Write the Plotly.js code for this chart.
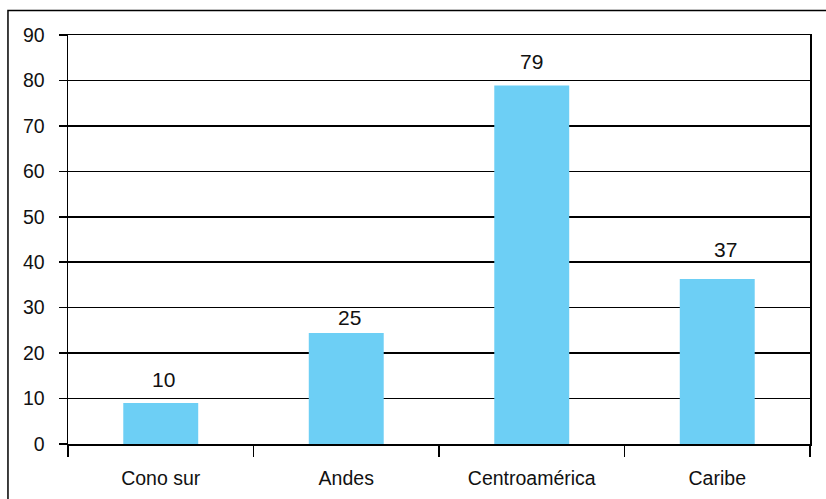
<!DOCTYPE html>
<html>
<head>
<meta charset="utf-8">
<script src="https://cdn.plot.ly/plotly-3.0.1.min.js"></script>
<style>
  body { margin: 0; background: white; }
  #chart { width: 826px; height: 499px; }
</style>
</head>
<body>
<div id="chart"></div>
<script>
// regiones y valores
const regiones = ["Cono sur", "Andes", "Centroamérica", "Caribe"];
const valores = [9.0, 24.4, 78.9, 36.3];
const etiquetas = ["10", "25", "79", "37"];
const yTicks = [0, 10, 20, 30, 40, 50, 60, 70, 80, 90];

// desplazamiento de cada etiqueta en píxeles (colocadas a mano en el original)
const desplazY = [10, 2, 10, 16];
const desplazX = [3, 3, 0, 8];

const fuente = "Liberation Sans, Arial, sans-serif";

const traceBarras = {
  type: "bar",
  x: regiones,
  y: valores,
  width: 0.404,
  marker: { color: "#6DCFF5", line: { width: 0 } },
  hoverinfo: "skip",
};

const anotaciones = regiones.map((r, i) => ({
  x: r,
  y: valores[i],
  text: etiquetas[i],
  showarrow: false,
  yanchor: "bottom",
  yshift: desplazY[i],
  xshift: desplazX[i],
  font: { family: fuente, size: 21, color: "#111" },
}));

const layout = {
  width: 826,
  height: 499,
  margin: { l: 68, r: 16, t: 34.5, b: 54.5 },
  showlegend: false,
  plot_bgcolor: "white",
  paper_bgcolor: "white",
  xaxis: {
    type: "category",
    showgrid: false,
    showline: true,
    linecolor: "#000",
    linewidth: 1.5,
    mirror: true,
    ticks: "outside",
    tickson: "boundaries",
    ticklen: 11,
    tickwidth: 1.5,
    tickcolor: "#000",
    ticklabelstandoff: 16,
    tickfont: { family: fuente, size: 19.5, color: "#111" },
    fixedrange: true,
  },
  yaxis: {
    range: [0, 90],
    tickvals: yTicks,
    ticktext: yTicks.map(String),
    showgrid: true,
    gridcolor: "#000",
    gridwidth: 1.5,
    zeroline: false,
    showline: true,
    linecolor: "#000",
    linewidth: 1.5,
    mirror: true,
    ticks: "outside",
    ticklen: 8,
    tickwidth: 1.5,
    tickcolor: "#000",
    ticklabelstandoff: 10,
    tickfont: { family: fuente, size: 19.5, color: "#111" },
    fixedrange: true,
  },
  annotations: anotaciones,
  shapes: [
    {
      type: "rect",
      xref: "paper",
      yref: "paper",
      x0: -0.0809,
      x1: 1.2,
      y0: -0.3,
      y1: 1.0598,
      line: { color: "#000", width: 1.5 },
      layer: "below",
    },
  ],
};

Plotly.newPlot("chart", [traceBarras], layout, { displayModeBar: false, staticPlot: true });
</script>
</body>
</html>
